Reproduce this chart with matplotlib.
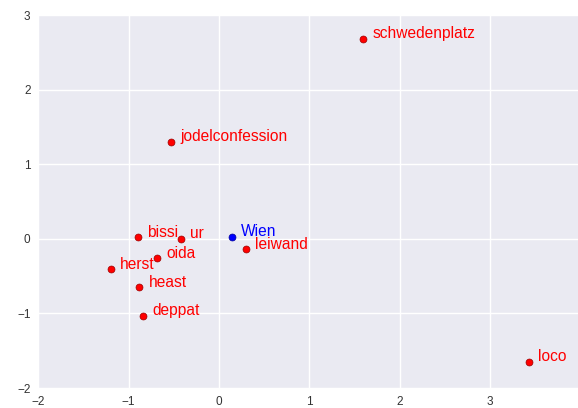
import matplotlib
matplotlib.use("Agg")
import matplotlib.pyplot as plt

# word positions (2D projection)
words = ["schwedenplatz", "jodelconfession", "bissi", "ur", "leiwand",
         "oida", "herst", "heast", "deppat", "loco"]
xs = [1.60, -0.53, -0.89, -0.42, 0.30, -0.68, -1.19, -0.88, -0.84, 3.43]
ys = [2.68, 1.30, 0.02, 0.00, -0.14, -0.26, -0.41, -0.65, -1.03, -1.65]

query = "Wien"
qx, qy = 0.14, 0.03

plt.rcParams['font.family'] = ['Liberation Sans', 'DejaVu Sans']
plt.rcParams['axes.unicode_minus'] = True

fig = plt.figure(figsize=(5.78, 4.08), dpi=100)
ax = fig.add_axes([0.066, 0.049, 0.938, 0.914])
ax.set_facecolor("#EAEAF2")
ax.grid(True, color="white", linewidth=1)
ax.set_axisbelow(True)
for s in ax.spines.values():
    s.set_visible(False)

ax.plot(xs, ys, "o", color="red", markersize=5, markeredgecolor="#990000",
        markeredgewidth=0.5, linestyle="none")
for w, x, y in zip(words, xs, ys):
    ax.annotate(w, (x, y), xytext=(6.5, 0.5), textcoords="offset points",
                color="red", fontsize=11.2)

ax.plot([qx], [qy], "o", color="blue", markersize=5, markeredgecolor="#000099",
        markeredgewidth=0.5)
ax.annotate(query, (qx, qy), xytext=(6.5, 0.5), textcoords="offset points",
            color="blue", fontsize=11.2)

ax.set_xlim(-2, 4)
ax.set_ylim(-2, 3)
ax.set_xticks([-2, -1, 0, 1, 2, 3])
ax.set_yticks([-2, -1, 0, 1, 2, 3])
ax.tick_params(length=0, labelsize=8.5, colors="#333333", pad=5.5)

fig.savefig("out.png", dpi=100)
